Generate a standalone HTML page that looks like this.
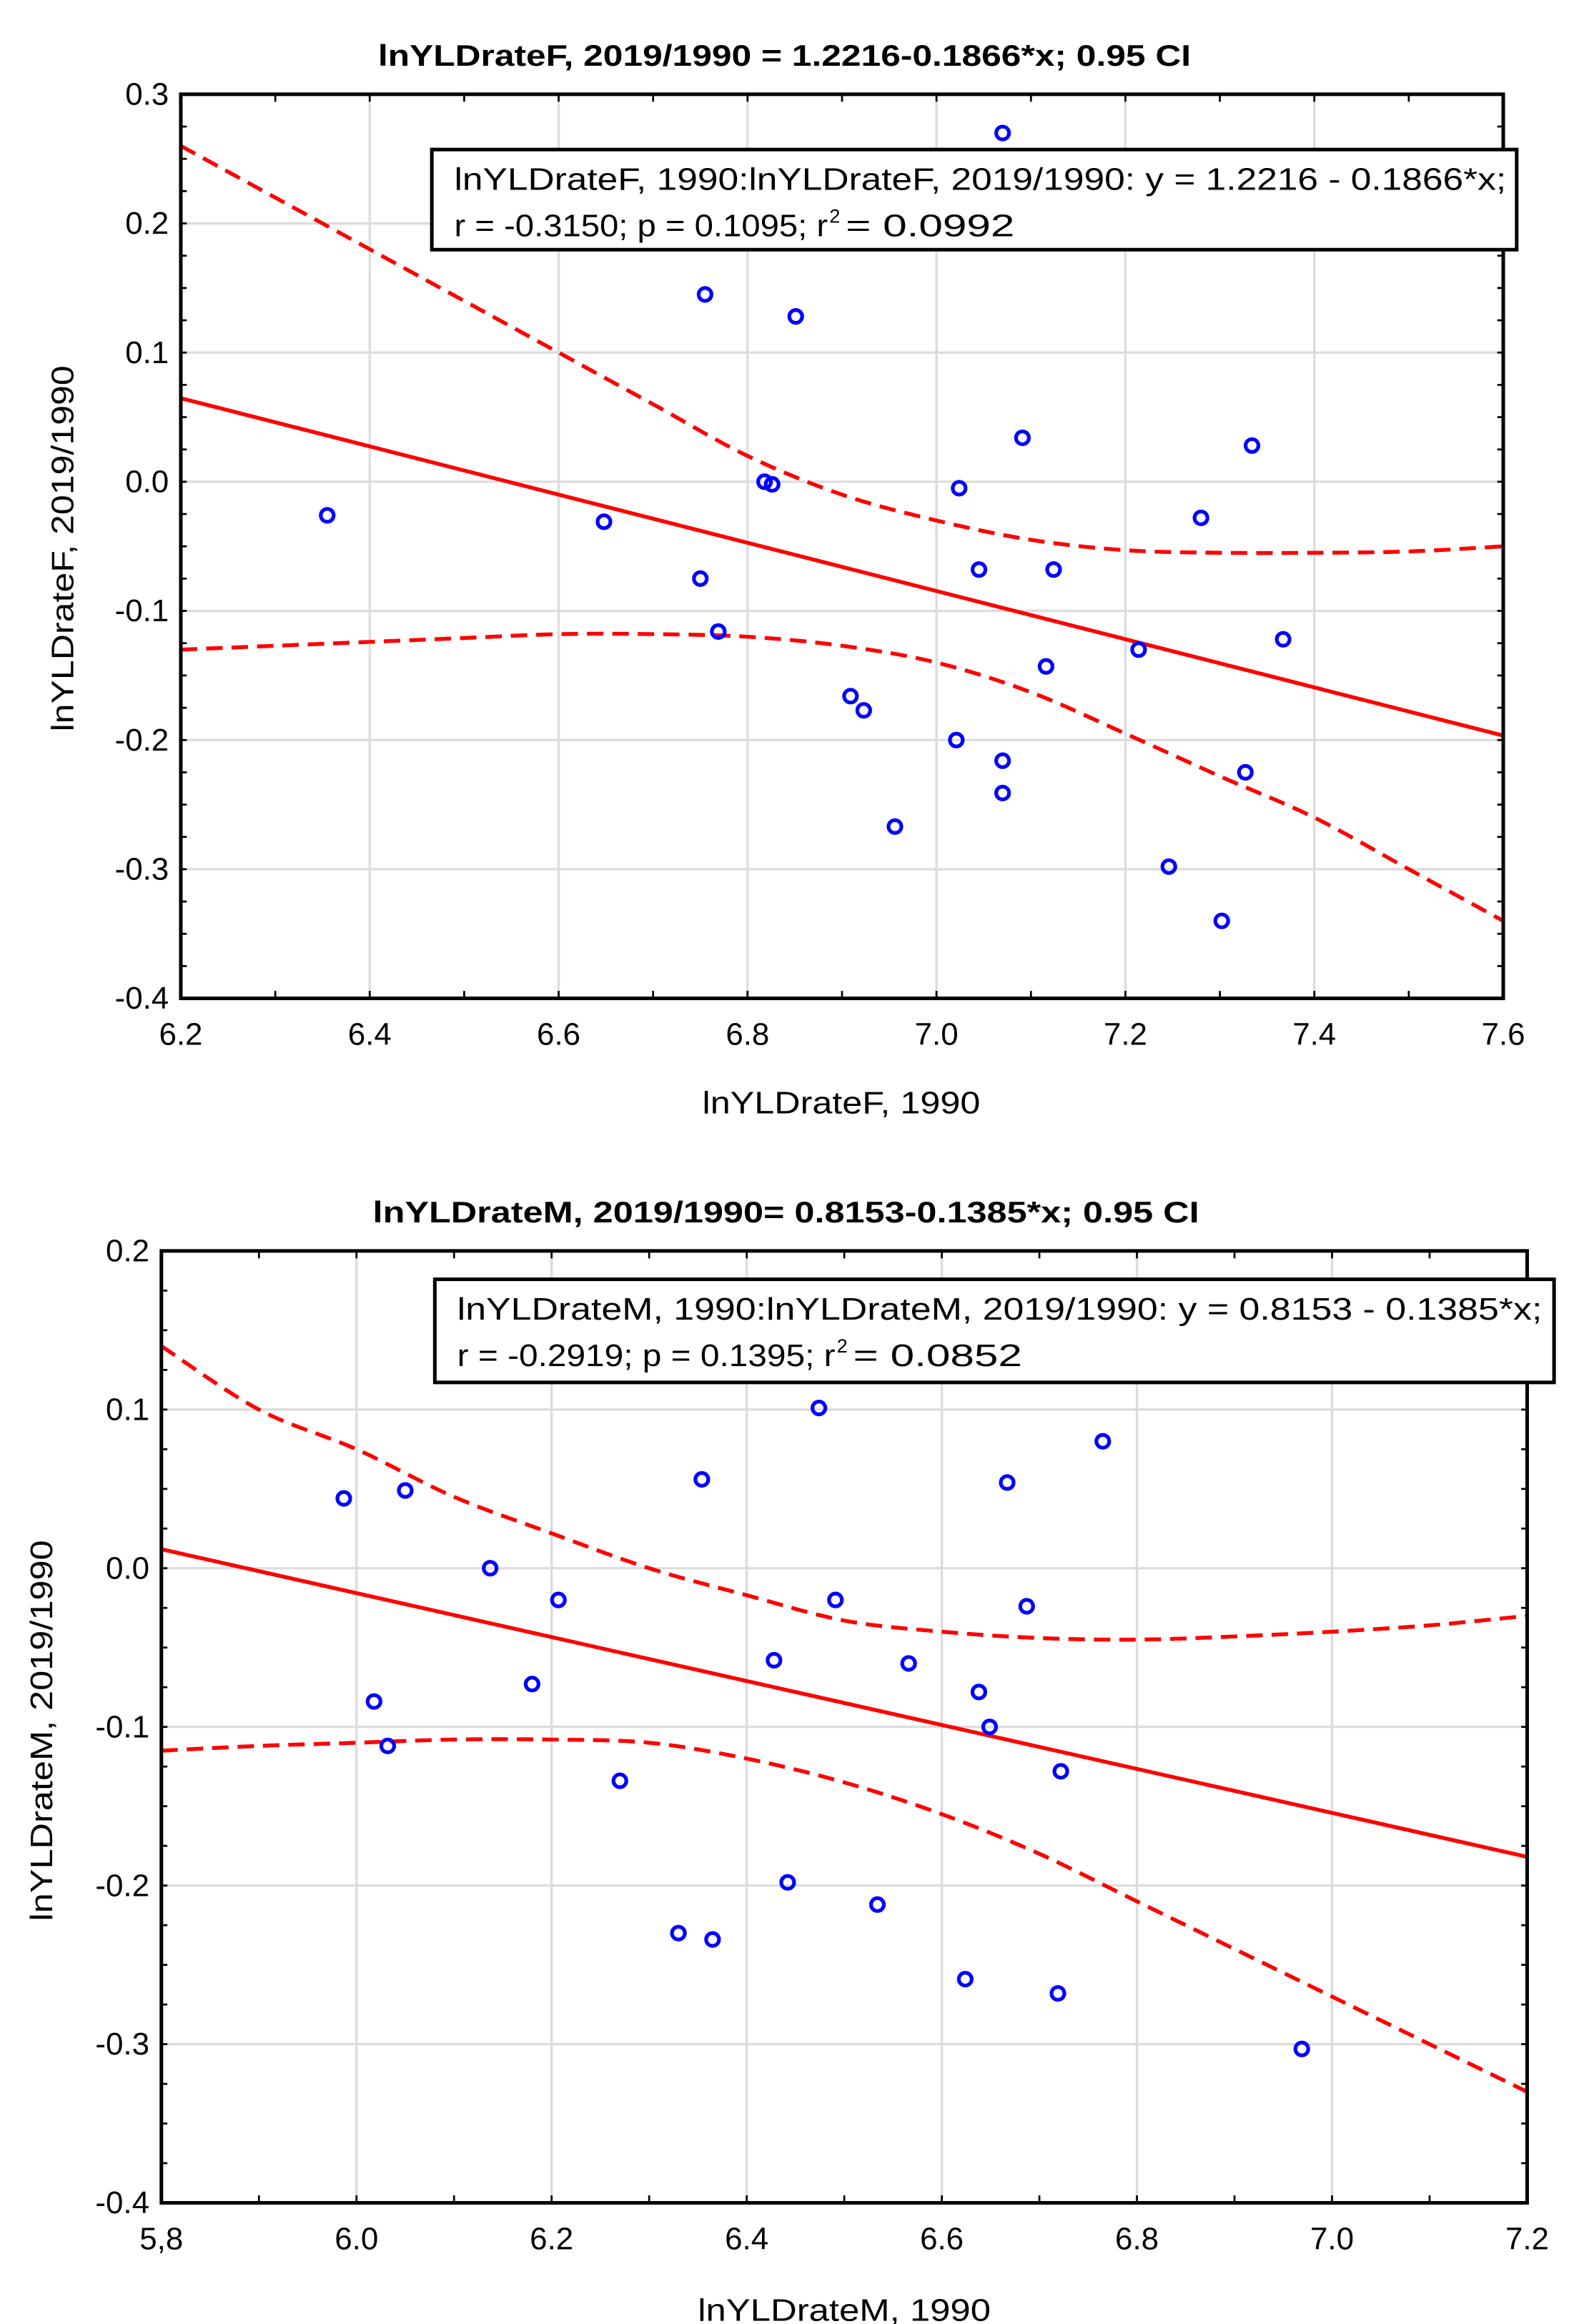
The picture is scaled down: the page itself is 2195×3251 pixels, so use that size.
<!DOCTYPE html>
<html><head><meta charset="utf-8"><style>
html,body{margin:0;padding:0;background:#fff;}
svg{display:block;font-family:"Liberation Sans",Arial,sans-serif;}
</style></head><body>
<svg id="root" width="2195" height="3251" viewBox="0 0 1050 1555" xmlns="http://www.w3.org/2000/svg"></svg>
<script>
// ---- Chart 1 data (female) ----
const fX = [6.355,6.648,6.755,6.851,6.818,6.826,6.750,6.769,6.909,6.923,6.956,7.021,7.024,7.045,7.070,7.070,7.070,7.091,7.116,7.124,7.214,7.246,7.280,7.302,7.327,7.334,7.367];
const fY = [-0.026,-0.031,0.145,0.128,0.000,-0.002,-0.075,-0.116,-0.166,-0.177,-0.267,-0.200,-0.005,-0.068,0.270,-0.216,-0.241,0.034,-0.143,-0.068,-0.130,-0.298,-0.028,-0.340,-0.225,0.028,-0.122];
const fCiX = [6.2,6.3,6.4,6.5,6.6,6.7,6.8,6.9,7.0,7.1,7.2,7.3,7.4,7.5,7.6];
const fCiUp = [0.26,0.22,0.18,0.14,0.10,0.06,0.02,-0.01,-0.03,-0.045,-0.053,-0.055,-0.055,-0.054,-0.05];
const fCiLo = [-0.13,-0.127,-0.124,-0.121,-0.118,-0.118,-0.12,-0.127,-0.14,-0.163,-0.195,-0.228,-0.26,-0.30,-0.34];
const fFit = [1.2216,-0.1866];
const fXTicks = [6.2,6.4,6.6,6.8,7.0,7.2,7.4,7.6];
const fXTickLabels = ["6.2","6.4","6.6","6.8","7.0","7.2","7.4","7.6"];
const fYTicks = [0.3,0.2,0.1,0.0,-0.1,-0.2,-0.3,-0.4];
const fYTickLabels = ["0.3","0.2","0.1","0.0","-0.1","-0.2","-0.3","-0.4"];
// ---- Chart 2 data (male) ----
const mX = [5.987,6.050,6.018,6.032,6.137,6.180,6.207,6.270,6.330,6.354,6.365,6.428,6.442,6.474,6.491,6.534,6.566,6.624,6.638,6.649,6.667,6.687,6.719,6.722,6.765,6.969];
const mY = [0.044,0.049,-0.084,-0.112,0.000,-0.073,-0.020,-0.134,-0.230,0.056,-0.234,-0.058,-0.198,0.101,-0.020,-0.212,-0.060,-0.259,-0.078,-0.100,0.054,-0.024,-0.268,-0.128,0.080,-0.303];
const mCiX = [5.8,5.9,6.0,6.1,6.2,6.3,6.4,6.5,6.6,6.7,6.8,6.9,7.0,7.1,7.2];
const mCiUp = [0.14,0.10,0.075,0.045,0.022,0.0,-0.017,-0.033,-0.04,-0.044,-0.045,-0.043,-0.04,-0.036,-0.03];
const mCiLo = [-0.115,-0.112,-0.11,-0.108,-0.108,-0.11,-0.12,-0.135,-0.155,-0.18,-0.21,-0.24,-0.27,-0.30,-0.33];
const mFit = [0.8153,-0.1385];
const mXTicks = [5.8,6.0,6.2,6.4,6.6,6.8,7.0,7.2];
const mXTickLabels = ["5,8","6.0","6.2","6.4","6.6","6.8","7.0","7.2"];
const mYTicks = [0.2,0.1,0.0,-0.1,-0.2,-0.3,-0.4];
const mYTickLabels = ["0.2","0.1","0.0","-0.1","-0.2","-0.3","-0.4"];

const NS="http://www.w3.org/2000/svg";
const root=document.getElementById('root');
function mk(tag,attrs,parent,txt){const e=document.createElementNS(NS,tag);for(const k in attrs)e.setAttribute(k,attrs[k]);if(txt!==undefined)e.textContent=txt;(parent||root).appendChild(e);return e;}

function chart(o){
  const g=mk('g',{});
  
  
  const sx=v=>o.L+(v-o.x0)/(o.x1-o.x0)*(o.R-o.L);
  const sy=v=>o.T+(o.y0-v)/(o.y0-o.y1)*(o.B-o.T);
  o.xTicks.forEach((v,i)=>{if(i>0&&i<o.xTicks.length-1){const l=mk('line',{x1:sx(v),x2:sx(v),y1:o.T,y2:o.B,stroke:'#dcdcdc','stroke-width':1.6},g);}});
  o.yTicks.forEach((v,i)=>{if(i>0&&i<o.yTicks.length-1){const l=mk('line',{x1:o.L,x2:o.R,y1:sy(v),y2:sy(v),stroke:'#dcdcdc','stroke-width':1.6},g);}});
  for(let v=o.x0;v<=o.x1+1e-9;v+=0.1){const X=sx(v);mk('line',{x1:X,x2:X,y1:o.B,y2:o.B-5,stroke:'#000','stroke-width':1.3},g);mk('line',{x1:X,x2:X,y1:o.T,y2:o.T+5,stroke:'#000','stroke-width':1.3},g);}
  for(let v=o.y1;v<=o.y0+1e-9;v+=0.025){const Y=sy(v);mk('line',{x1:o.L,x2:o.L+4,y1:Y,y2:Y,stroke:'#000','stroke-width':1.3},g);mk('line',{x1:o.R,x2:o.R-4,y1:Y,y2:Y,stroke:'#000','stroke-width':1.3},g);}
  const ciPath=arr=>{const pts=o.ciX.map((x,i)=>[sx(x),sy(arr[i])]);let d='M'+pts[0][0]+','+pts[0][1];for(let i=0;i<pts.length-1;i++){const p0=pts[Math.max(0,i-1)],p1=pts[i],p2=pts[i+1],p3=pts[Math.min(pts.length-1,i+2)];d+=` C${p1[0]+(p2[0]-p0[0])/6},${p1[1]+(p2[1]-p0[1])/6} ${p2[0]-(p3[0]-p1[0])/6},${p2[1]-(p3[1]-p1[1])/6} ${p2[0]},${p2[1]}`;}return d;};
  const cu=mk('path',{d:ciPath(o.ciUp),fill:'none',stroke:'#f00','stroke-width':2.6,'stroke-dasharray':'11,6'},g);
  
  const cl=mk('path',{d:ciPath(o.ciLo),fill:'none',stroke:'#f00','stroke-width':2.6,'stroke-dasharray':'11,6'},g);
  
  const fl=mk('line',{x1:sx(o.x0),y1:sy(o.fit[0]+o.fit[1]*o.x0),x2:sx(o.x1),y2:sy(o.fit[0]+o.fit[1]*o.x1),stroke:'#f00','stroke-width':2.6},g);
  
  o.xs.forEach((x,i)=>{const c=mk('circle',{cx:sx(x),cy:sy(o.ys[i]),r:4.3,fill:'none',stroke:'#0000ff','stroke-width':2.5},g);
    });
  const fr=mk('rect',{x:o.L,y:o.T,width:o.R-o.L,height:o.B-o.T,fill:'none',stroke:'#000','stroke-width':2.4},g);
  
  o.xTicks.forEach((v,i)=>{const t=mk('text',{x:sx(v),y:o.B+31,'font-size':21,'text-anchor':'middle'},g,o.xLabels[i]);});
  o.yTicks.forEach((v,i)=>{const t=mk('text',{x:o.L-8,y:sy(v)+7,'font-size':21,'text-anchor':'end'},g,o.yLabels[i]);});
  const ti=mk('text',{x:o.titleX,y:o.titleY,'font-size':20,'font-weight':'bold','text-anchor':'middle',textLength:o.titleW,lengthAdjust:'spacingAndGlyphs'},g,o.title);
  
  const xt=mk('text',{x:o.xtX,y:o.xtY,'font-size':21,'text-anchor':'middle',textLength:o.xtW,lengthAdjust:'spacingAndGlyphs'},g,o.xTitle);
  
  const yt=mk('text',{x:0,y:0,'font-size':21,'text-anchor':'middle',transform:`translate(${o.ytX},${o.ytY}) rotate(-90)`,textLength:o.ytW,lengthAdjust:'spacingAndGlyphs'},g,o.yTitle);
  
  const lg=mk('g',{},g);
  mk('rect',{x:o.lx,y:o.ly,width:o.lw,height:o.lh,fill:'#fff',stroke:'#000','stroke-width':2.4},lg);
  const l1=mk('text',{x:o.lx+15,y:o.ly+27,'font-size':21,textLength:o.l1w,lengthAdjust:'spacingAndGlyphs'},lg,o.leg1);
  
  const y2=o.ly+58, x2=o.lx+15;
  const l2=mk('text',{x:x2,y:y2,'font-size':21,textLength:o.l2aw,lengthAdjust:'spacingAndGlyphs'},lg,o.leg2a);
  
  const sup=mk('text',{x:x2+o.l2aw+1,y:y2-9,'font-size':13},lg,'2');
  
  const l3=mk('text',{x:x2+o.l2aw+12,y:y2,'font-size':21,textLength:o.l2bw,lengthAdjust:'spacingAndGlyphs'},lg,o.leg2b);
  
}

chart({name:'chart-female',L:121,R:1006,T:63,B:668,x0:6.2,x1:7.6,y0:0.3,y1:-0.4,
  xs:fX,ys:fY,ciX:fCiX,ciUp:fCiUp,ciLo:fCiLo,fit:fFit,xTicks:fXTicks,xLabels:fXTickLabels,yTicks:fYTicks,yLabels:fYTickLabels,
  title:'lnYLDrateF, 2019/1990 = 1.2216-0.1866*x; 0.95 CI',titleX:525,titleY:44,titleW:544,
  xTitle:'lnYLDrateF, 1990',xtX:563,xtY:745,xtW:186,
  yTitle:'lnYLDrateF, 2019/1990',ytX:49,ytY:367,ytW:245,
  lx:289,ly:100,lw:726,lh:67,leg1:'lnYLDrateF, 1990:lnYLDrateF, 2019/1990:    y = 1.2216 - 0.1866*x;',l1w:704,
  leg2a:'r = -0.3150; p = 0.1095; r',l2aw:250,leg2b:'= 0.0992',l2bw:113});

chart({name:'chart-male',L:108,R:1022,T:837,B:1474,x0:5.8,x1:7.2,y0:0.2,y1:-0.4,
  xs:mX,ys:mY,ciX:mCiX,ciUp:mCiUp,ciLo:mCiLo,fit:mFit,xTicks:mXTicks,xLabels:mXTickLabels,yTicks:mYTicks,yLabels:mYTickLabels,
  title:'lnYLDrateM, 2019/1990= 0.8153-0.1385*x; 0.95 CI',titleX:526,titleY:818,titleW:553,
  xTitle:'lnYLDrateM, 1990',xtX:565,xtY:1553,xtW:196,
  yTitle:'lnYLDrateM, 2019/1990',ytX:35,ytY:1158,ytW:255,
  lx:291,ly:856,lw:749,lh:69,leg1:'lnYLDrateM, 1990:lnYLDrateM, 2019/1990:    y = 0.8153 - 0.1385*x;',l1w:726,
  leg2a:'r = -0.2919; p = 0.1395; r',l2aw:253,leg2b:'= 0.0852',l2bw:113});
</script>
</body></html>
